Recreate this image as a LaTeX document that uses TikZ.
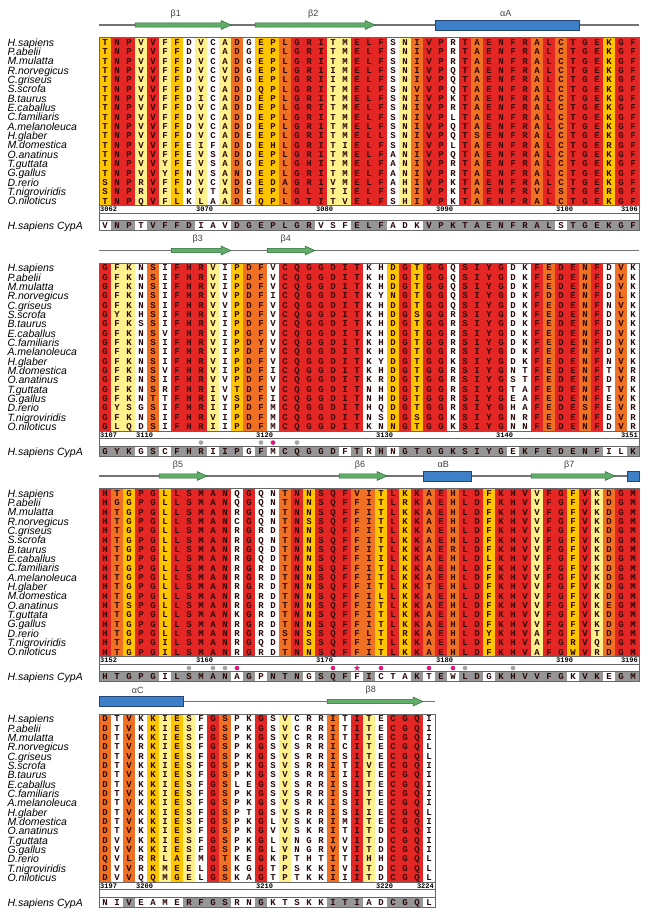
\documentclass[tikz,border=0pt]{standalone}
\usepackage{fontspec}
\newfontfamily\namefont{Liberation Sans}
\newfontfamily\resfont{Liberation Mono}
\usetikzlibrary{shapes.geometric}
\definecolor{colR}{RGB}{228,38,36}
\definecolor{colO}{RGB}{240,112,36}
\definecolor{colG}{RGB}{255,198,0}
\definecolor{colY}{RGB}{255,241,140}
\definecolor{colW}{RGB}{255,255,255}
\definecolor{cypgray}{RGB}{150,150,150}
\definecolor{resdark}{RGB}{45,8,8}
\definecolor{ssgreen}{RGB}{96,172,104}
\definecolor{ssgreenline}{RGB}{40,110,55}
\definecolor{ssblue}{RGB}{62,128,200}
\definecolor{ssblueline}{RGB}{35,70,120}
\definecolor{dotpink}{RGB}{228,20,125}
\definecolor{dotgray}{RGB}{165,165,165}
\tikzset{
  res/.style={font=\resfont\bfseries\fontsize{9}{9}\selectfont, text=resdark, inner sep=0pt, text height=6pt, text depth=0pt},
  spname/.style={font=\namefont\itshape\fontsize{10.5}{10.5}\selectfont, anchor=base west, inner sep=0pt},
  rulenum/.style={font=\resfont\bfseries\fontsize{7}{7}\selectfont, anchor=base west, inner sep=0pt},
  sslabel/.style={font=\namefont\fontsize{9}{9}\selectfont, text=black!75, inner sep=0pt},
  frame/.style={draw=black!60, line width=0.7pt},
  ssline/.style={draw=black!55, line width=1.1pt},
  strandarrow/.style={fill=ssgreen, draw=ssgreenline, line width=0.5pt},
  helixbox/.style={fill=ssblue, draw=ssblueline, line width=0.5pt},
  sitestar/.style={star, star points=5, star point ratio=2.4, fill=dotpink, inner sep=0pt, minimum size=6.5pt}
}
\def\specieslist{H.sapiens,P.abelii,M.mulatta,R.norvegicus,C.griseus,S.scrofa,B.taurus,E.caballus,C.familiaris,A.melanoleuca,H.glaber,M.domestica,O.anatinus,T.guttata,G.gallus,D.rerio,T.nigroviridis,O.niloticus}
\newcount\colno
\makeatletter
% one residue per column
\def\alnrow#1#2#3{\global\colno=0 \def\alnrow@y{#1}\def\alnrow@n{#2}\expandafter\alnrow@i#3\relax}
\def\alnrow@i#1{\ifx\relax#1\expandafter\@gobble\else\expandafter\@firstofone\fi
  {\global\advance\colno by 1
   \node[res] (\alnrow@n-\the\colno) at ({93+12*\the\colno},{\alnrow@y}) {#1};
   \alnrow@i}}
% column shading
\def\colband#1#2{\global\colno=0 \def\colband@y{#1}\colband@i#2\relax}
\def\colband@i#1{\ifx\relax#1\expandafter\@gobble\else\expandafter\@firstofone\fi
  {\global\advance\colno by 1
   \fill[col#1] ({87+12*\the\colno},{\colband@y}) rectangle ++(12,168);
   \colband@i}}
% CypA row, lower case = not shaded
\def\cyprow#1#2#3{\global\colno=0 \def\cyp@y{#1}\def\cyp@n{#2}\cyp@i#3\relax}
\def\cyp@i#1{\ifx\relax#1\expandafter\@gobble\else\expandafter\@firstofone\fi
  {\global\advance\colno by 1
   \ifnum`#1<96 \fill[cypgray] ({87+12*\the\colno},{\cyp@y-4.9}) rectangle ++(12,9.8);\fi
   \node[res] (\cyp@n-\the\colno) at ({93+12*\the\colno},{\cyp@y}) {\uppercase{#1}};
   \cyp@i}}
\makeatother
\newcommand\alnblock[6]{%
  \colband{#1}{#4}
  \draw[frame] (99,#1) rectangle ({99+12*#2},{#1+168});
  \draw[frame] (99,{#1+168}) rectangle ({99+12*#2},{#1+175.5});
  \draw[frame] (99,{#1+175.5}) rectangle ({99+12*#2},{#1+183});
  \cyprow{#1+187.9}{#3c}{#6}
  \draw[frame] (99,{#1+183}) rectangle ({99+12*#2},{#1+192.8});
  \foreach \s [count=\r] in {#5} {
    \pgfmathsetmacro\rowy{#1+9.33*(\r-0.5)}
    \alnrow{\rowy}{#3r\r}{\s}
  }
  \foreach \nm [count=\r] in \specieslist {
    \pgfmathsetmacro\rowy{#1+9.33*(\r-0.5)+3.8}
    \node[spname] (#3n\r) at (7.3,\rowy) {\nm};
  }
  \node[spname] (#3cypname) at (7.3,{#1+191.7}) {H.sapiens CypA};
}
\newcommand\strand[3]{\filldraw[strandarrow] ({87+12*#1},{#3-2.2}) -- ({89+12*#2},{#3-2.2}) -- ({89+12*#2},{#3-4.5}) -- ({99+12*#2},#3) -- ({89+12*#2},{#3+4.5}) -- ({89+12*#2},{#3+2.2}) -- ({87+12*#1},{#3+2.2}) -- cycle;}
\newcommand\helix[3]{\filldraw[helixbox] ({87+12*#1},{#3-5}) rectangle ({99+12*#2},{#3+5});}

\begin{document}
\begin{tikzpicture}[x=1pt, y=-1pt]
\useasboundingbox (0,0) rectangle (650,918);
\fill[white] (0,0) rectangle (650,918);

% block 1
\draw[ssline] (99,25) -- (639,25);
\strand{4}{11}{25}
\strand{14}{23}{25}
\helix{29}{40}{25}
\node[sslabel] (lbB1) at (175.7,13.8) {β1};
\node[sslabel] (lbB2) at (313.3,13.8) {β2};
\node[sslabel] (lbaA) at (505.7,13.8) {αA};
\alnblock{37.8}{45}{b1}{GRRYRYGWYWYOWGGORRRYYRRRWYORRWRORRRRORORRRGRR}{
TNPVVFFDVCADGEPLGRITMELFSNIVPRTAENFRALCTGEKGF,
TNPVVFFDVCADGEPLGRITMELFSNIVPRTAENFRALCTGEKGF,
TNPVVFFDVCADGEPLGRITMELFSNIVPRTAENFRALCTGEKGF,
TNPVVFFDVCVDGEPLGRIIMELFSNIVPQTAENFRALCTGEKGF,
TNPVVFFDVCVDGEPLGRIIMELFSNIVPQTAENFRALCTGEKGF,
TNPVVFFDVCADDQPLGRITMELFSNVVPQTAENFRALCTGEKGF,
TNPVVFFDICADDEPLGRITMELFSNIVPKTAENFRALCTGEKGF,
TNPVVFFDVCADDEPLGRITMELFSNIVPRTAENFRALCTGEKGF,
TNPVVFFDVCADDEPLGRITMELFSNIVPLTAENFRALCTGEKGF,
TNPVVFFDVCADDEPLGRITMELFSNIVPQTAENFRALCTGEKGF,
TNPVVFFDVCADEEPLGRITMELLSNIVPQTSENFRALCTGEKGF,
TNPVVFFEIFADDEHLGRITIELFSNIVPLTAENFRALCTGERGF,
TNPVVFFEVSADDEPLGRITMELFANIVPQTAENFRALCTGEKGF,
TNPVVYFEVSADGEPLGHITMELFANIVPRTAENFRALCTGEKGF,
TNPVVYFNVSANDEPLGRITMELFANIVPRTAENFRALCTGEKGF,
SNPRVFFDVCVDGEDAGRIVMELFAHIVPKTAENFRALCTGEKGF,
SNPRVFLKVTADEEPLGLITIELFSHIVPKTAENFRVLSTGERGF,
TNPQVFLKLAADGQPLGTITVELFSHIVPKTAENFRALCTGEKGF}{vNPtVFFDiavDGEPLGRvsfELFadkVPKTAENFRALsTGEKGF}
\foreach \num/\c in {3062/1,3070/9,3080/19,3090/29,3100/39}
  \node[rulenum] (b1num\num) at ({88+12*\c},211.8) {\num};
\node[rulenum, anchor=base east] (b1num3106) at (638,211.8) {3106};

% block 2
\draw[ssline] (99,250.5) -- (639,250.5);
\strand{7}{11}{250.5}
\strand{15}{18}{250.5}
\node[sslabel] (lbB3) at (197.7,239.3) {β3};
\node[sslabel] (lbB4) at (285.7,239.3) {β4};
\alnblock{263.3}{45}{b2}{RYYWOWRRRYWGOOWRRRRRRRWWGRGRRWRRRRWWRORRORWOW}{
GFKNSIFHRVIPDFVCQGGDITKHDGTGGQSIYGDKFEDENFDVK,
GFKNSIFHRVIPDFVCQGGDITKHDGTGGQSIYGDKFEDENFDVK,
GFKNSIFHRVIPDFVCQGGDITKHDGTGGQSIYGDKFEDENFDVK,
GFKNSIFHRVVPDFICQGGDITKYNGTGGQSIYGDKFDDENFDLK,
GFKNSIFHRVVPDFVCQGGDITKHDGTGGQSIYGDKFEDENFNVK,
GYKHSIFHRVIPDFVCQGGDITKHDGSGGRSIYGDKFEDENFDVK,
GFKSSIFHRVIPDFVCQGGDITKHDGTGGRSIYGDKFEDENFDVK,
GFKNSVFHRVIPGFVCQGGDITKHDGTGGRSIYGDKFEDENFDVK,
GFKNSIFHRVIPDYVCQGGDITKHDGTGGRSIYGDKFEDENFDVK,
GFKNSIFHRVIPDFVCQGGDITKHDGTGGRSIYGDKFEDENFDVK,
GFKNSIFHRVIPDFVCQGGDITKYDGTGGKSIYGDKFEDENFNVK,
GFKNSVFHRVIPDFICQGGDITKHDGTGGRSIYGNTFEDENFTVR,
GFRNSIFHRVVPDFVCQGGDITKRDGTGGRSIYGSTFEDENFDVR,
GFKNSRFHRIVTDFVCQGGDITNHDGTGGRSIYGTAFEDENFTVK,
GFKNTTFHRIVSDFICQGGDITNHDGTGGRSIYGEAFEDENFEVK,
GYSGSIFHRIIPDFMCQGGDITHQDGTGGRSIYGHAFEDESFEVR,
GFKNSIFHRVIPDFMCQGGDITNSDGSGGKSIYGNRFEDENFDVR,
GLQDSIFHRIIPDFMCQGGDITKNNGTGGKSIYGNNFEDENFDVR}{GYKgScFHRiIPgFmCQGGDfTrHnGTGGKSIYGeKFEDENFilK}
\foreach \num/\c in {3107/1,3110/4,3120/14,3130/24,3140/34}
  \node[rulenum] (b2num\num) at ({88+12*\c},437.3) {\num};
\node[rulenum, anchor=base east] (b2num3151) at (638,437.3) {3151};
\foreach \c in {9,14,17}
  \fill[dotgray] ({93+12*\c},442.55) circle (2.3pt);
\fill[dotpink] ({93+12*15},442.55) circle (2.3pt);

% block 3
\draw[ssline] (99,476) -- (627,476);
\strand{6}{9}{476}
\strand{21}{24}{476}
\helix{28}{31}{476}
\strand{37}{43}{476}
\helix{45}{45}{476}
\node[sslabel] (lbB5) at (178,464.8) {β5};
\node[sslabel] (lbB6) at (360,464.8) {β6};
\node[sslabel] (lbaB) at (443.3,464.8) {αB};
\node[sslabel] (lbB7) at (569.3,464.8) {β7};
\alnblock{488.8}{45}{b3}{ROGRRGRRRRRWRWWORGRRROOGRGRORORRGRRRYRRGRYORR}{
HTGPGLLSMANQGQNTNNSQFVITLKKAEHLDFKHVVFGFVKDGM,
HGGPGLLSMANQGQNTNNSQFFITLRKAEHLDFKHVVFGFVKDGM,
HTGPGLLSMANRGQNTNNSQFFITLKKAEHLDFKHVVFGFVKDGM,
HTGPGLLSMANCGQNTNSSQFFITLKKAEHLDFKHVVFGFVKDGM,
HTGPGLLSMANRGRDTNNSQFFITLKKAEHLDFKHVVFGFVKDGM,
HTGPGLLSMANRGQNTNNSQFFITLKKAEHLDFKHVVFGFVKDGM,
HTGPGLLSMANRGQDTNNSQFFITLKKAERLDFKHVVFGFVKDGM,
HTDPGLLSMANRGQDTNNSQFFIILKKAEHLDLKHVVFGFVKDGM,
HTGPGLLSMANRGRDTNNSQFFITLKKAEHLDFKHVVFGFVKDGM,
HTGPGLLSMANRGRDTNNSQFFITLKKAEHLDFKHVVFGFVKDGM,
HTGPGLLSMANRGRDTNNSQFFITLKKTEHLDFKHVVFGFVKDGM,
HTGPGLLSMANRGRDTNNSQFFILLKKAEHLDFKHVVFGFVKDGM,
HTSPGLLSMANRGRDTNNSQFFITLKKAEHLDFKHVVFGFVKEGM,
HTGPGLLSMANKGRDTNNSQFFITLKKAEHLDFKHVVFGFVKDGM,
HTGPGLLSMANRGRDTNNSQFFITLKKAEHLDFKHVVFGFVKDGM,
HTGPGLLSMANRGRDSNSSQFFLTLRKAEHLDYKHVAFGFVTDGM,
HTGPGILSMANRGQDTNSSQFFITLKKAEHLDFKHVAFGRVQDGM,
HTGPGILSMANRGRDTNNSQFFITLKKAEHLDFKHVAFGWVRDGM}{HTGPGiLSMANaGpNTNgSQFfIctaKtEwLDgKHVVFGkVKeGM}
\foreach \num/\c in {3152/1,3160/9,3170/19,3180/29,3190/39}
  \node[rulenum] (b3num\num) at ({88+12*\c},662.8) {\num};
\node[rulenum, anchor=base east] (b3num3196) at (638,662.8) {3196};
\foreach \c in {8,10,11,31,35}
  \fill[dotgray] ({93+12*\c},668.05) circle (2.3pt);
\foreach \c in {12,20,24,28,30}
  \fill[dotpink] ({93+12*\c},668.05) circle (2.3pt);
\node[sitestar] (b3star22) at ({93+12*22},668.05) {};

% block 4
\draw[ssline] (183,701.5) -- (435,701.5);
\helix{1}{7}{701.5}
\strand{20}{27}{701.5}
\node[sslabel] (lbaC) at (137.7,690.3) {αC};
\node[sslabel] (lbB8) at (370.7,690.3) {β8};
\alnblock{714.3}{28}{b4}{OWOWGYGYWROWWRWYWWWOWRYWRRRW}{
DTVKKIESFGSPKGSVCRRITITECGQI,
DTVKKIESFGSPKGSVCRRITITECGQI,
DTVKKIESFGSPKGSVCRRITITECGQI,
DTVRKIESFGSPKGSVSRRICITECGQL,
DTVRKIESFGSPKGSVSRRISITECGQL,
DTVKKIESFGSPKGSVSRRITIVECGQI,
DTVKKIESFGSPKGSVSRRIIITECGQI,
DTVKKIESFGSLEGSVSRRISITECGQI,
DTVKKIESFGSPKGSVSRRISITECGQI,
DTVKKIESFGSPKGSVSRKISITECGQI,
DTVKKIESFGSPTGSVSRRISIIECGQL,
DTVKKIESFGSPKGLVSKRIMITECGQI,
DTVKKIESFGSPKGVVSKRITITDCGQI,
DVVKKIESFGSPKGLVNGRIVITDCGQI,
DVVKKIESFGSPKGLVNGRVVITDCGQI,
QVLRRLAEMGTKEGKPTHTITIHHCGQL,
DVVRKMEELGSKGGTPSKKIVITDCGQL,
DVVQQMGELGSKAGTPTKKIIITDCGQL}{niVeameRFGSrnGktskkITIadCGQl}
\foreach \num/\c in {3197/1,3200/4,3210/14,3220/24}
  \node[rulenum] (b4num\num) at ({88+12*\c},888.3) {\num};
\node[rulenum, anchor=base east] (b4num3224) at (434,888.3) {3224};
\end{tikzpicture}
\end{document}
